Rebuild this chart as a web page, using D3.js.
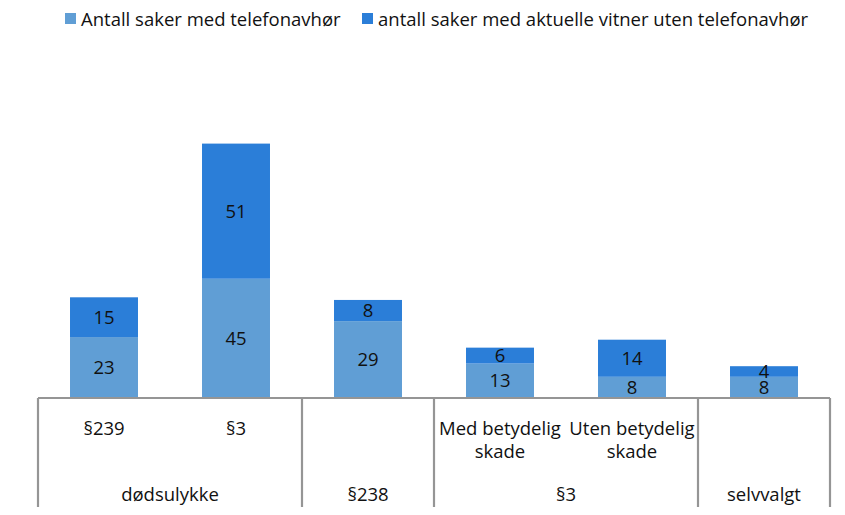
<!DOCTYPE html>
<html>
<head>
<meta charset="utf-8">
<script src="https://cdn.jsdelivr.net/npm/d3@7"></script>
<style>
  body { margin: 0; background: #fff; }
  text { font-family: "Open Sans", sans-serif; fill: #111; }
</style>
</head>
<body>
<div id="chart"></div>
<script>
// Chart data
const subLabels = ['§239', '§3', '', 'Med betydelig\nskade', 'Uten betydelig\nskade', ''];
const groups = [
  { name: 'dødsulykke', from: 0, to: 1 },
  { name: '§238', from: 2, to: 2 },
  { name: '§3', from: 3, to: 4 },
  { name: 'selvvalgt', from: 5, to: 5 }
];
const seriesNames = ['Antall saker med telefonavhør', 'antall saker med aktuelle vitner uten telefonavhør'];
const withPhone = [23, 45, 29, 13, 8, 8];
const withoutPhone = [15, 51, 8, 6, 14, 4];
const colours = ['#609ed5', '#2b7ed8'];

const width = 845, height = 515;
const axisY = 398, axisBottom = 507;
const fontSize = 18.5;

const svg = d3.select('#chart').append('svg')
  .attr('width', width)
  .attr('height', height);

const idx = d3.range(withPhone.length);
const x = d3.scaleBand()
  .domain(idx)
  .range([38, 830])
  .paddingInner(0.485)
  .paddingOuter(0.2425);

const y = d3.scaleLinear()
  .domain([0, 100])
  .range([axisY, 133]);

const rows = idx.map(i => ({ i, a: withPhone[i], b: withoutPhone[i] }));
const stack = d3.stack().keys(['a', 'b'])(rows);

// Bars
const layers = svg.append('g').selectAll('g')
  .data(stack)
  .join('g')
    .attr('fill', (d, k) => colours[k]);

layers.selectAll('rect')
  .data(d => d)
  .join('rect')
    .attr('x', d => x(d.data.i))
    .attr('y', d => y(d[1]))
    .attr('width', x.bandwidth())
    .attr('height', d => y(d[0]) - y(d[1]));

// Value labels
layers.selectAll('text')
  .data(d => d)
  .join('text')
    .attr('x', d => x(d.data.i) + x.bandwidth() / 2)
    .attr('y', d => (y(d[0]) + y(d[1])) / 2)
    .attr('dy', '.36em')
    .attr('text-anchor', 'middle')
    .attr('font-size', fontSize)
    .text(d => d[1] - d[0]);

// Category axis with two levels
const axis = svg.append('g').attr('stroke', '#959595').attr('stroke-width', 2.2);
axis.append('line')
  .attr('x1', x.range()[0]).attr('x2', x.range()[1])
  .attr('y1', axisY).attr('y2', axisY);

const edges = [x.range()[0]].concat(groups.map(g => x(g.to) + x.step() - x.step() * x.paddingInner() / 2));
axis.selectAll('.divider')
  .data(edges)
  .join('line')
    .attr('class', 'divider')
    .attr('x1', d => d).attr('x2', d => d)
    .attr('y1', axisY).attr('y2', axisBottom);

svg.append('g').selectAll('text')
  .data(idx)
  .join('text')
    .attr('x', i => x(i) + x.bandwidth() / 2)
    .attr('y', 434.5)
    .attr('text-anchor', 'middle')
    .attr('font-size', fontSize)
    .each(function (i) {
      const lines = subLabels[i].split('\n');
      d3.select(this).selectAll('tspan')
        .data(lines)
        .join('tspan')
          .attr('x', x(i) + x.bandwidth() / 2)
          .attr('dy', (l, j) => j === 0 ? 0 : 23.5)
          .text(l => l);
    });

svg.append('g').selectAll('text')
  .data(groups)
  .join('text')
    .attr('x', g => (x(g.from) + x(g.to) + x.bandwidth()) / 2)
    .attr('y', 501)
    .attr('text-anchor', 'middle')
    .attr('font-size', fontSize)
    .text(g => g.name);

// Legend
const legendX = [65, 362];
const legend = svg.append('g').selectAll('g')
  .data(seriesNames)
  .join('g')
    .attr('transform', (d, k) => `translate(${legendX[k]}, 13)`);

legend.append('rect')
  .attr('width', 11)
  .attr('height', 11)
  .attr('fill', (d, k) => colours[k]);

legend.append('text')
  .attr('x', 16)
  .attr('y', 12.5)
  .attr('font-size', fontSize)
  .text(d => d);
</script>
</body>
</html>
